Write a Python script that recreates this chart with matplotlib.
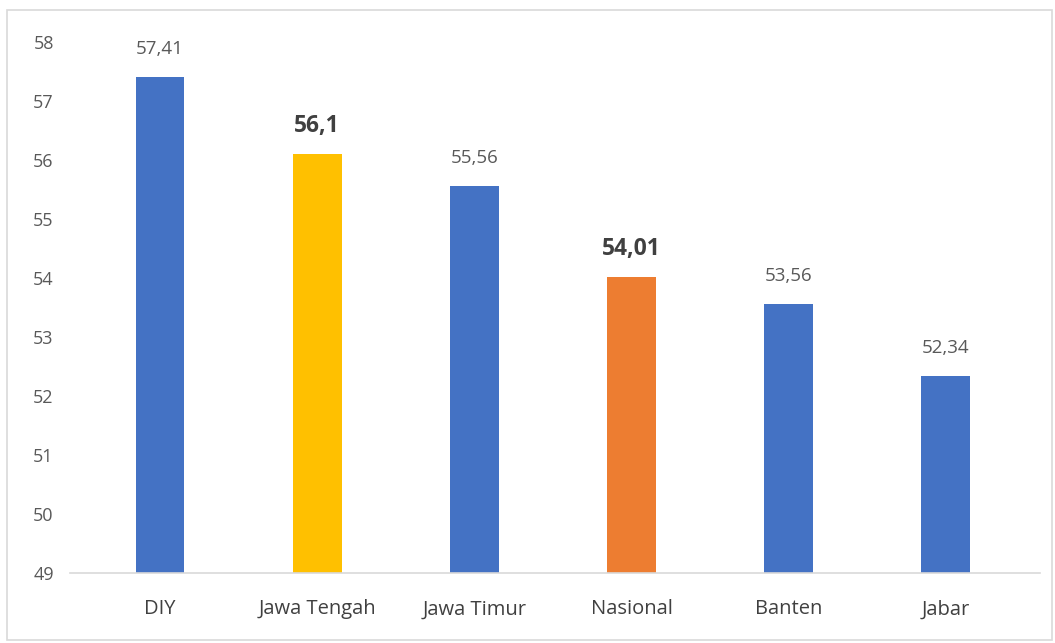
import matplotlib
matplotlib.use("Agg")
import matplotlib.pyplot as plt
from matplotlib.patches import Rectangle

categories = ["DIY", "Jawa Tengah", "Jawa Timur", "Nasional", "Banten", "Jabar"]
values = [57.41, 56.1, 55.56, 54.01, 53.56, 52.34]
labels = ["57,41", "56,1", "55,56", "54,01", "53,56", "52,34"]
colors = ["#4472C4", "#FFC000", "#4472C4", "#ED7D31", "#4472C4", "#4472C4"]
bold = [False, True, False, True, False, False]
yticks = [49, 50, 51, 52, 53, 54, 55, 56, 57, 58]

plt.rcParams['font.family'] = ['Open Sans', 'DejaVu Sans']

fig = plt.figure(figsize=(10.55, 6.43), dpi=100)
ax = fig.add_axes([0.0668, 0.109, 0.919, 0.826])

x = list(range(len(categories)))
ax.bar(x, [v - 49 for v in values], bottom=49, width=0.31, color=colors, zorder=2)
ax.set_ylim(49, 58)
ax.set_xlim(-0.57, 5.6)
ax.set_yticks(yticks)
ax.set_yticklabels([str(t) for t in yticks], color="#595959", fontsize=13)
ax.set_xticks(x)
ax.set_xticklabels(categories, color="#404040", fontsize=14.5)
ax.tick_params(axis='y', length=0, pad=12)
ax.tick_params(axis='x', length=0, pad=19)
for s in ["top", "right", "left"]:
    ax.spines[s].set_visible(False)
ax.spines["bottom"].set_color("#D9D9D9")
ax.spines["bottom"].set_linewidth(1.2)

for xi, v, lab, b in zip(x, values, labels, bold):
    ax.annotate(lab, (xi, v), xytext=(0, 20), textcoords="offset points",
                ha="center", va="center",
                fontsize=16.5 if b else 13.5,
                fontweight="bold" if b else "normal",
                color="#404040" if b else "#595959")

fig.patches.append(Rectangle((0.007, 0.005), 0.99, 0.98, transform=fig.transFigure,
                             fill=False, edgecolor="#D9D9D9", linewidth=1.2))

fig.savefig("out.png", dpi=100, facecolor="white")
